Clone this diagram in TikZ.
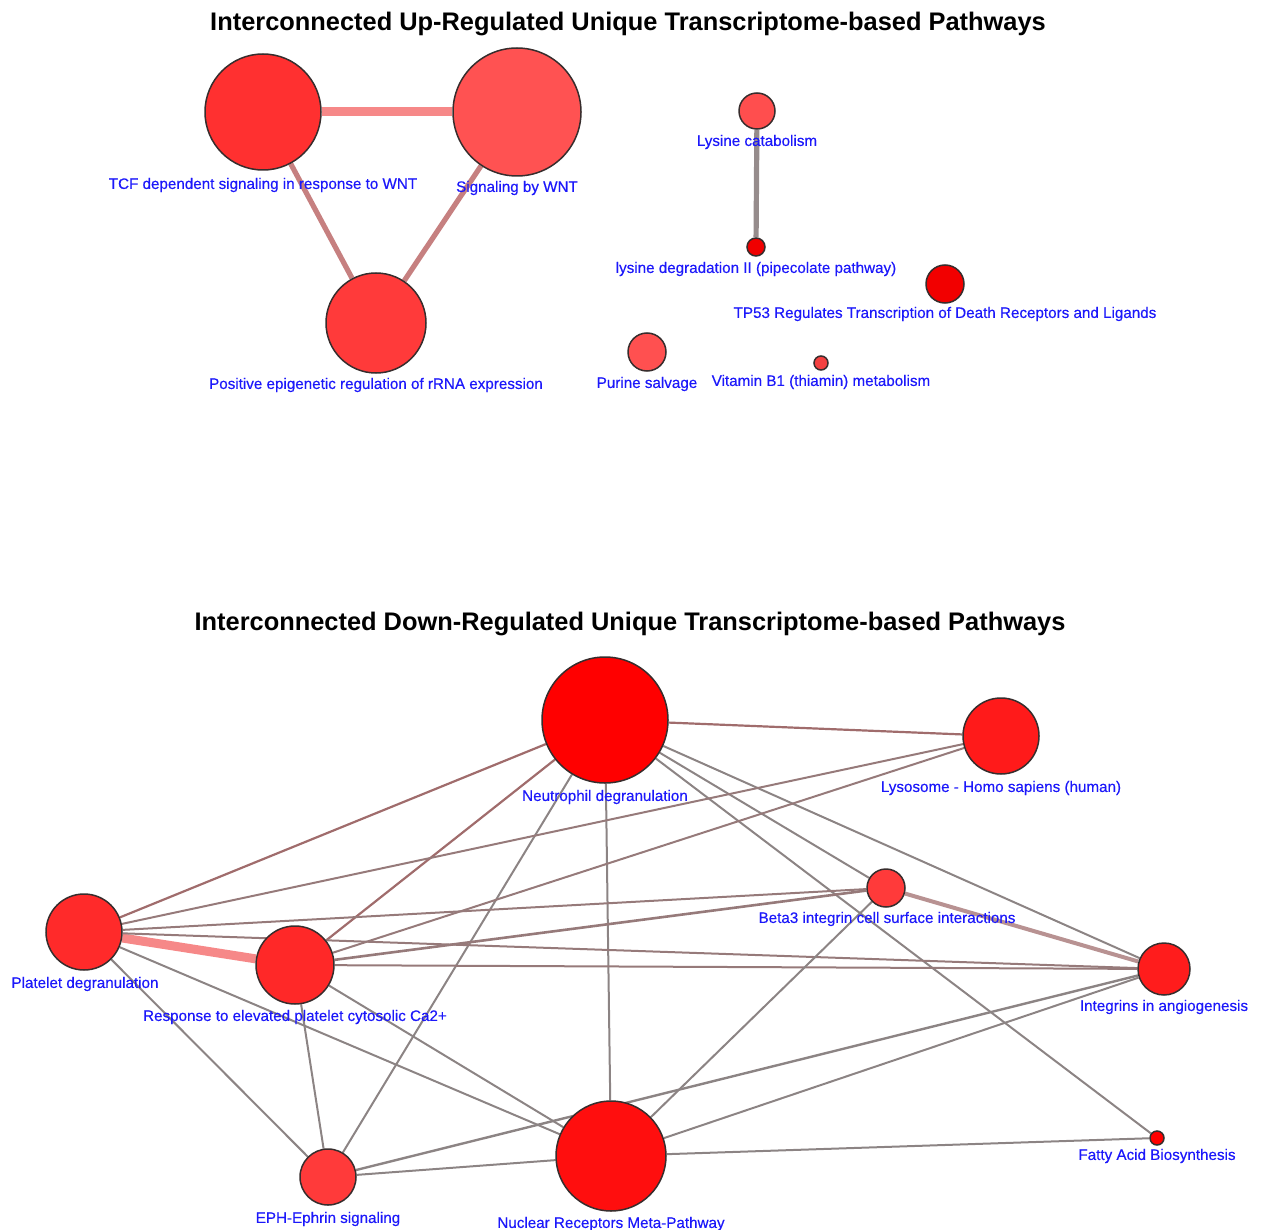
\documentclass[tikz,border=0pt]{standalone}
\usepackage{fontspec}
\setmainfont{Liberation Sans}
\newfontfamily\lblfont[FakeBold=0.4]{Liberation Sans}
\usetikzlibrary{backgrounds}

\definecolor{labelblue}{RGB}{28,24,250}
\definecolor{nodeborder}{RGB}{55,45,45}
\definecolor{edgegray}{RGB}{140,132,132}
\definecolor{edgebrown}{RGB}{150,122,122}
\definecolor{edgered}{RGB}{160,108,108}
\definecolor{edgepink}{RGB}{246,136,136}
\definecolor{edgerose}{RGB}{198,128,128}
\definecolor{edgebeta}{RGB}{184,146,146}
\definecolor{edgelys}{RGB}{150,140,140}

\begin{document}
\begin{tikzpicture}[x=0.5pt,y=-0.5pt,
  pw/.style={circle, draw=nodeborder, line width=0.75pt, inner sep=0pt, minimum size=#1},
  lbl/.style={text=labelblue, font=\lblfont\fontsize{7.6}{9}\selectfont, inner sep=0pt},
  ttl/.style={font=\bfseries\fontsize{12.7}{15}\selectfont, inner sep=0pt},
  ed/.style={draw=edgegray, line width=1pt},
  edb/.style={draw=edgebrown, line width=1pt},
  edr/.style={draw=edgered, line width=1.1pt}]
\useasboundingbox (0,0) rectangle (1263,1230);

% ---------- up-regulated network ----------
\node[ttl] (t1) at (628,24) {Interconnected Up-Regulated Unique Transcriptome-based Pathways};

\node[pw=58pt, fill={rgb,255:red,255;green,48;blue,48}] (tcf) at (263,112) {};
\node[pw=64pt, fill={rgb,255:red,255;green,82;blue,82}] (wnt) at (517,112) {};
\node[pw=50pt, fill={rgb,255:red,255;green,58;blue,58}] (pos) at (376,323) {};
\node[pw=18pt, fill={rgb,255:red,255;green,78;blue,78}] (lyc) at (757,111) {};
\node[pw=9pt,  fill={rgb,255:red,240;green,0;blue,0}] (lyd) at (756,247) {};
\node[pw=19pt, fill={rgb,255:red,242;green,0;blue,0}] (tp53) at (945,284) {};
\node[pw=19pt, fill={rgb,255:red,255;green,80;blue,80}] (pur) at (647,352) {};
\node[pw=7pt,  fill={rgb,255:red,244;green,64;blue,64}] (vit) at (821,363) {};

\begin{scope}[on background layer]
  \draw[draw=edgepink, line width=4.5pt] (tcf) -- (wnt);
  \draw[draw=edgerose, line width=2.6pt] (tcf) -- (pos);
  \draw[draw=edgerose, line width=2.6pt] (wnt) -- (pos);
  \draw[draw=edgelys, line width=2.6pt] (lyc) -- (lyd);
\end{scope}

\node[lbl] (tcf-l) at (263,185) {TCF dependent signaling in response to WNT};
\node[lbl] (wnt-l) at (517,188) {Signaling by WNT};
\node[lbl] (pos-l) at (376,385) {Positive epigenetic regulation of rRNA expression};
\node[lbl] (lyc-l) at (757,142) {Lysine catabolism};
\node[lbl] (lyd-l) at (756,269) {lysine degradation II (pipecolate pathway)};
\node[lbl] (tp53-l) at (945,314) {TP53 Regulates Transcription of Death Receptors and Ligands};
\node[lbl] (pur-l) at (647,384) {Purine salvage};
\node[lbl] (vit-l) at (821,382) {Vitamin B1 (thiamin) metabolism};

% ---------- down-regulated network ----------
\node[ttl] (t2) at (630,624) {Interconnected Down-Regulated Unique Transcriptome-based Pathways};

\node[pw=63pt, fill={rgb,255:red,255;green,0;blue,0}] (neu) at (605,720) {};
\node[pw=38pt, fill={rgb,255:red,255;green,26;blue,26}] (lyso) at (1001,736) {};
\node[pw=38pt, fill={rgb,255:red,255;green,42;blue,42}] (plat) at (84,932) {};
\node[pw=39pt, fill={rgb,255:red,255;green,40;blue,40}] (resp) at (295,965) {};
\node[pw=19pt, fill={rgb,255:red,255;green,58;blue,58}] (beta) at (886,888) {};
\node[pw=26pt, fill={rgb,255:red,255;green,28;blue,28}] (integ) at (1164,969) {};
\node[pw=28pt, fill={rgb,255:red,255;green,58;blue,58}] (eph) at (328,1177) {};
\node[pw=55pt, fill={rgb,255:red,255;green,14;blue,14}] (nuc) at (611,1156) {};
\node[pw=7pt,  fill={rgb,255:red,255;green,0;blue,0}] (fat) at (1157,1138) {};

\begin{scope}[on background layer]
  \draw[edr] (neu) -- (lyso);
  \draw[edr] (neu) -- (plat);
  \draw[edr] (neu) -- (resp);
  \draw[ed] (neu) -- (eph);
  \draw[ed] (neu) -- (nuc);
  \draw[ed] (neu) -- (beta);
  \draw[ed] (neu) -- (integ);
  \draw[ed] (neu) -- (fat);
  \draw[edb] (lyso) -- (plat);
  \draw[edb] (lyso) -- (resp);
  \draw[draw=edgepink, line width=4.5pt] (plat) -- (resp);
  \draw[edb] (plat) -- (beta);
  \draw[edb] (plat) -- (integ);
  \draw[ed] (plat) -- (eph);
  \draw[ed] (plat) -- (nuc);
  \draw[edb, line width=1.3pt] (resp) -- (beta);
  \draw[edb] (resp) -- (integ);
  \draw[ed] (resp) -- (eph);
  \draw[ed] (resp) -- (nuc);
  \draw[draw=edgebeta, line width=2pt] (beta) -- (integ);
  \draw[ed] (beta) -- (nuc);
  \draw[ed, line width=1.2pt] (integ) -- (eph);
  \draw[ed] (integ) -- (nuc);
  \draw[ed] (nuc) -- (eph);
  \draw[ed] (nuc) -- (fat);
\end{scope}

\node[lbl] (neu-l) at (605,797) {Neutrophil degranulation};
\node[lbl] (lyso-l) at (1001,788) {Lysosome - Homo sapiens (human)};
\node[lbl] (plat-l) at (85,984) {Platelet degranulation};
\node[lbl] (resp-l) at (295,1017) {Response to elevated platelet cytosolic Ca2+};
\node[lbl] (beta-l) at (887,919) {Beta3 integrin cell surface interactions};
\node[lbl] (integ-l) at (1164,1007) {Integrins in angiogenesis};
\node[lbl] (eph-l) at (328,1219) {EPH-Ephrin signaling};
\node[lbl] (nuc-l) at (611,1224) {Nuclear Receptors Meta-Pathway};
\node[lbl] (fat-l) at (1157,1156) {Fatty Acid Biosynthesis};
\end{tikzpicture}
\end{document}
